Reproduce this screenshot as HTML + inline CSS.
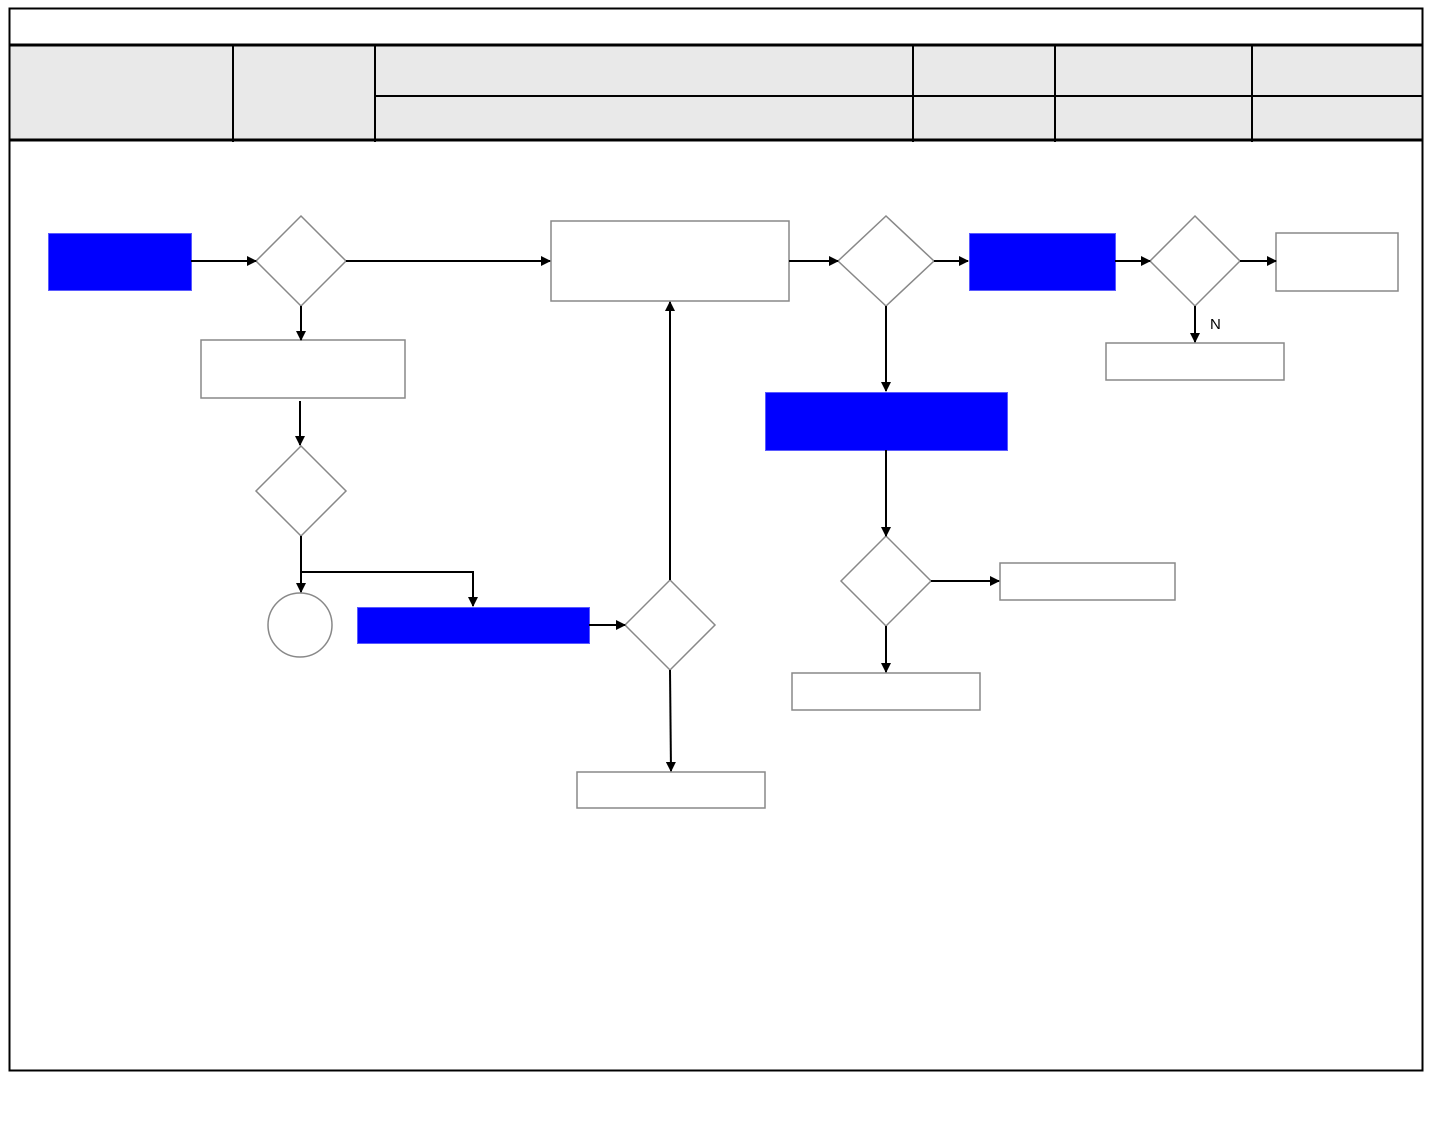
<!DOCTYPE html>
<html><head><meta charset="utf-8"><style>html,body{margin:0;padding:0;background:#fff}svg{display:block}</style></head>
<body>
<svg width="1440" height="1137" viewBox="0 0 1440 1137" xmlns="http://www.w3.org/2000/svg">
<defs><marker id="a" markerWidth="10" markerHeight="10" refX="9" refY="5" orient="auto" markerUnits="userSpaceOnUse"><path d="M0,0 L10,5 L0,10 z" fill="#000"/></marker></defs>
<rect x="10" y="45" width="1412" height="95" fill="#e9e9e9"/>
<rect x="9.5" y="8.5" width="1413" height="1062" fill="none" stroke="#000" stroke-width="2"/>
<line x1="9" y1="45" x2="1423" y2="45" stroke="#000" stroke-width="3"/>
<line x1="9" y1="140" x2="1423" y2="140" stroke="#000" stroke-width="3"/>
<line x1="375" y1="96" x2="1423" y2="96" stroke="#000" stroke-width="2"/>
<g stroke="#000" stroke-width="2"><line x1="233" y1="45" x2="233" y2="142"/><line x1="375" y1="45" x2="375" y2="142"/><line x1="913" y1="45" x2="913" y2="142"/><line x1="1055" y1="45" x2="1055" y2="142"/><line x1="1252" y1="45" x2="1252" y2="142"/></g>

<g fill="#0000ff" stroke="#5a5aff" stroke-width="1">
<rect x="48.5" y="233.5" width="143" height="57"/>
<rect x="969.5" y="233.5" width="146" height="57"/>
<rect x="357.5" y="607.5" width="232" height="36"/>
<rect x="765.5" y="392.5" width="242" height="58"/>
</g>
<g fill="#fff" stroke="#888" stroke-width="1.5">
<rect x="551" y="221" width="238" height="80"/>
<rect x="1276" y="233" width="122" height="58"/>
<rect x="1106" y="343" width="178" height="37"/>
<rect x="201" y="340" width="204" height="58"/>
<rect x="577" y="772" width="188" height="36"/>
<rect x="1000" y="563" width="175" height="37"/>
<rect x="792" y="673" width="188" height="37"/>
<polygon points="301,216 346,261 301,306 256,261"/>
<polygon points="886,216 934,261 886,306 838,261"/>
<polygon points="1195,216 1240,261 1195,306 1150,261"/>
<polygon points="301,446 346,491 301,536 256,491"/>
<polygon points="670,580 715,625 670,670 625,625"/>
<polygon points="886,536 931,581 886,626 841,581"/>
<circle cx="300" cy="625" r="32"/>
</g>
<g stroke="#000" stroke-width="2" fill="none" marker-end="url(#a)">
<line x1="191" y1="261" x2="256" y2="261"/>
<line x1="346" y1="261" x2="550" y2="261"/>
<line x1="789" y1="261" x2="838" y2="261"/>
<line x1="934" y1="261" x2="968" y2="261"/>
<line x1="1115" y1="261" x2="1150" y2="261"/>
<line x1="1240" y1="261" x2="1276" y2="261"/>
<line x1="1195" y1="306" x2="1195" y2="342"/>
<line x1="301" y1="306" x2="301" y2="340"/>
<line x1="300" y1="401" x2="300" y2="445"/>
<line x1="301" y1="536" x2="301" y2="592"/>
<polyline points="301,572 473,572 473,606"/>
<line x1="589" y1="625" x2="625" y2="625"/>
<line x1="670" y1="580" x2="670" y2="302"/>
<line x1="670" y1="670" x2="671" y2="771"/>
<line x1="886" y1="306" x2="886" y2="391"/>
<line x1="886" y1="450" x2="886" y2="536"/>
<line x1="931" y1="581" x2="999" y2="581"/>
<line x1="886" y1="626" x2="886" y2="672"/>
</g>
<text x="1210" y="329" font-family="Liberation Sans, sans-serif" font-size="15">N</text>
</svg>
</body></html>
